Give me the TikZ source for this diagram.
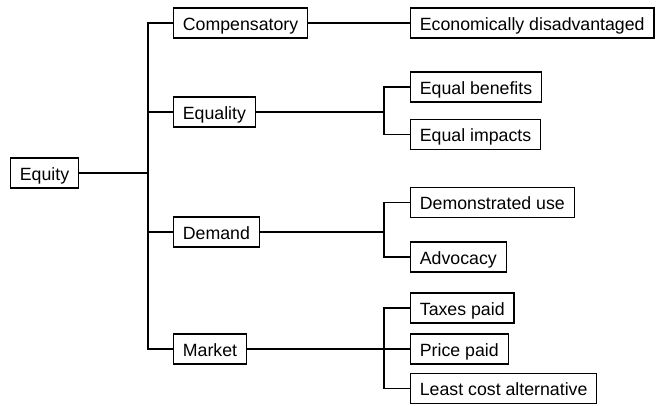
\documentclass[tikz,border=0pt]{standalone}
\usepackage{fontspec}
\setmainfont{Liberation Sans}
\begin{document}
\begin{tikzpicture}[x=0.75pt,y=-0.75pt,
    box/.style={draw,line width=0.8pt,anchor=west,inner xsep=7pt,minimum height=22.5pt,
      text height=12pt,text depth=1pt,font=\fontsize{13.3}{16}\selectfont},
    link/.style={line width=0.8pt}]
  \useasboundingbox (0,0) rectangle (656,405);
  \pgfmathsetmacro{\trunkX}{148}
  \pgfmathsetmacro{\forkX}{384}
  \coordinate (trunk) at (\trunkX,0);
  \coordinate (fork) at (\forkX,0);
  \node[box] (equity) at (10,173) {Equity};
  \node[box] (compensatory) at (173,23) {Compensatory};
  \node[box] (equality) at (173,112) {Equality};
  \node[box] (demand) at (173,232) {Demand};
  \node[box] (market) at (173,349) {Market};
  \node[box] (econ) at (410,23) {Economically disadvantaged};
  \node[box] (benefits) at (410,87) {Equal benefits};
  \node[box] (impacts) at (410,134.5) {Equal impacts};
  \node[box] (use) at (410,202.5) {Demonstrated use};
  \node[box] (advocacy) at (410,257) {Advocacy};
  \node[box] (taxes) at (410,308) {Taxes paid};
  \node[box] (price) at (410,349) {Price paid};
  \node[box] (leastcost) at (410,388.5) {Least cost alternative};
  \draw[link] (equity) -- (equity -| trunk);
  \foreach \kid in {compensatory,equality,demand,market}
    \draw[link] (trunk |- equity) |- (\kid.west);
  \draw[link] (compensatory) -- (econ);
  \draw[link] (equality) -- (equality -| fork);
  \foreach \kid in {benefits,impacts}
    \draw[link] (fork |- equality) |- (\kid.west);
  \draw[link] (demand) -- (demand -| fork);
  \foreach \kid in {use,advocacy}
    \draw[link] (fork |- demand) |- (\kid.west);
  \draw[link] (market) -- (market -| fork);
  \foreach \kid in {taxes,price,leastcost}
    \draw[link] (fork |- market) |- (\kid.west);
\end{tikzpicture}
\end{document}
